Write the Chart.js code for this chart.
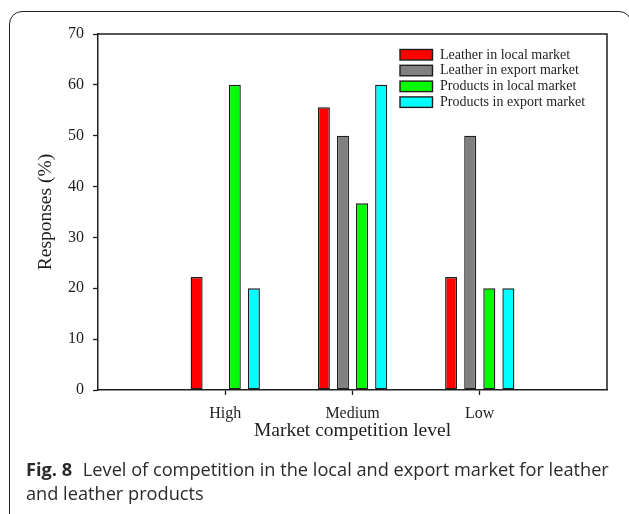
<!DOCTYPE html>
<html>
<head>
<meta charset="utf-8">
<script src="https://cdn.jsdelivr.net/npm/chart.js@4.4.1/dist/chart.umd.min.js"></script>
<style>
  html, body { margin: 0; padding: 0; background: #ffffff; }
  body { width: 629px; height: 514px; overflow: hidden; position: relative; }
  #frame {
    position: absolute; left: 9px; top: 11px; width: 623px; height: 530px;
    border: 1.3px solid #222; border-radius: 13px; box-sizing: border-box;
  }
  #chart { position: absolute; left: 0; top: 0; }
  #caption {
    position: absolute; left: 26px; top: 457px;
    font-family: "Open Sans", "Noto Sans", sans-serif; font-size: 18.2px;
    line-height: 24px; color: #2a2a2a; white-space: nowrap;
  }
  #caption b { font-weight: 700; margin-right: 6px; }
</style>
</head>
<body>
<div id="frame"></div>
<canvas id="chart" width="629" height="514"></canvas>
<div id="caption"><b>Fig. 8</b> Level of competition in the local and export market for leather<br>and leather products</div>
<script>
// Survey responses (%) by market competition level
const categories = ['High', 'Medium', 'Low'];
const leatherLocal = [22.2, 55.6, 22.2];
const leatherExport = [0, 50, 50];
const productsLocal = [60, 36.7, 20];
const productsExport = [20, 60, 20];
const seriesNames = [
  'Leather in local market',
  'Leather in export market',
  'Products in local market',
  'Products in export market'
];
const seriesColors = ['#ff0000', '#808080', '#00ff00', '#00ffff'];
const yTicks = [0, 10, 20, 30, 40, 50, 60, 70];

const serif = '"Liberation Serif", "Times New Roman", serif';
const ink = '#1e1e1e';

// empty slots on both ends leave room either side of the three groups
const labels = [''].concat(categories, ['']);
const pad = arr => [null].concat(arr, [null]);

const datasets = [leatherLocal, leatherExport, productsLocal, productsExport].map((vals, i) => ({
  label: seriesNames[i],
  data: pad(vals),
  backgroundColor: seriesColors[i],
  borderColor: ink,
  borderWidth: 1.4,
  borderSkipped: false,
  categoryPercentage: 0.6,
  barPercentage: 0.63
}));

// closes the plot box on the top and right sides
const boxPlugin = {
  id: 'plotBox',
  afterDraw(chart) {
    const { ctx, chartArea: a } = chart;
    ctx.save();
    ctx.strokeStyle = ink;
    ctx.lineWidth = 1.5;
    ctx.beginPath();
    ctx.moveTo(a.left, a.top);
    ctx.lineTo(a.right, a.top);
    ctx.lineTo(a.right, a.bottom);
    ctx.stroke();
    ctx.restore();
  }
};

// legend stacked in the upper right corner of the plot
const legendPlugin = {
  id: 'innerLegend',
  afterDraw(chart) {
    const { ctx, chartArea: a } = chart;
    const x0 = a.right - 207;
    const y0 = a.top + 15.5;
    const rowH = 15.8;
    ctx.save();
    ctx.font = '14px ' + serif;
    ctx.textBaseline = 'middle';
    ctx.textAlign = 'left';
    chart.data.datasets.forEach((ds, i) => {
      const y = y0 + i * rowH;
      ctx.fillStyle = ds.backgroundColor;
      ctx.fillRect(x0, y, 32.5, 10.5);
      ctx.strokeStyle = ink;
      ctx.lineWidth = 1.4;
      ctx.strokeRect(x0, y, 32.5, 10.5);
      ctx.fillStyle = ink;
      ctx.fillText(ds.label, x0 + 40, y + 5.5);
    });
    ctx.restore();
  }
};

new Chart(document.getElementById('chart'), {
  type: 'bar',
  data: { labels, datasets },
  options: {
    responsive: false,
    animation: false,
    devicePixelRatio: 1,
    layout: { padding: { left: 0, top: 34, right: 22, bottom: 54 } },
    plugins: { legend: { display: false }, tooltip: { enabled: false } },
    scales: {
      x: {
        offset: false,
        grid: {
          offset: false,
          drawOnChartArea: false,
          drawTicks: true,
          tickLength: 5,
          tickWidth: 1.3,
          tickColor: ctx => (labels[ctx.index] ? ink : 'rgba(0,0,0,0)')
        },
        border: { display: true, color: ink, width: 1.5 },
        ticks: {
          autoSkip: false,
          maxRotation: 0,
          padding: 9,
          color: ink,
          font: { family: serif, size: 16 }
        },
        title: {
          display: true,
          text: 'Market competition level',
          color: ink,
          font: { family: serif, size: 19.5 },
          padding: { top: 0, bottom: 17 }
        },
        afterFit(scale) { scale.height = 70; }
      },
      y: {
        min: 0,
        max: 70,
        afterBuildTicks(scale) { scale.ticks = yTicks.map(v => ({ value: v })); },
        grid: {
          drawOnChartArea: false,
          drawTicks: true,
          tickLength: 5,
          tickWidth: 1.3,
          tickColor: ink
        },
        border: { display: true, color: ink, width: 1.5 },
        ticks: {
          padding: 9,
          color: ink,
          font: { family: serif, size: 16 }
        },
        title: {
          display: true,
          text: 'Responses (%)',
          color: ink,
          font: { family: serif, size: 19.5 },
          padding: { top: 34, bottom: 0 }
        },
        afterFit(scale) { scale.width = 98; }
      }
    }
  },
  plugins: [boxPlugin, legendPlugin]
});
</script>
</body>
</html>
